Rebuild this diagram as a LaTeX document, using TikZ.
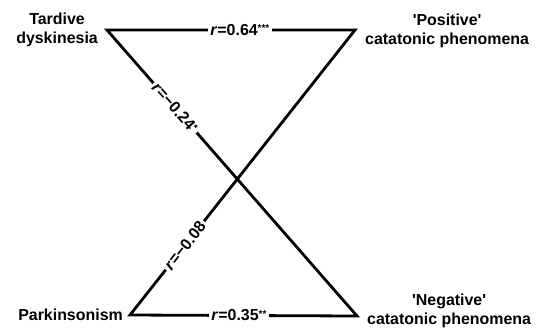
\documentclass[tikz,border=0pt]{standalone}
\usepackage{fontspec}
\setmainfont{Liberation Sans}
\usetikzlibrary{positioning}
\newcommand{\sig}[1]{\raisebox{3.5bp}{\fontsize{10}{10}\selectfont #1}}
\tikzset{
  corrLine/.style={line width=2.8bp, line join=miter},
  groupLbl/.style={inner sep=0pt, align=center},
  rLbl/.style={fill=white, inner sep=2.5bp},
}
\begin{document}
\begin{tikzpicture}[x=1bp, y=-1bp, font=\fontsize{16}{19.5}\selectfont\bfseries]
    \useasboundingbox (0,0) rectangle (550,329);
    % corners of the crossed figure
    \coordinate (tdV) at (107,30);
    \coordinate (posV) at (355,30);
    \coordinate (parkV) at (130,315);
    \coordinate (negV) at (357,316);
    \node[groupLbl, left=9bp of tdV] (td) {Tardive\\dyskinesia};
    \node[groupLbl, right=10bp of posV, yshift=-1bp] (pos) {\textquotesingle Positive\textquotesingle\\catatonic phenomena};
    \node[groupLbl, left=7bp of parkV] (park) {Parkinsonism};
    \node[groupLbl, right=10bp of negV, yshift=5bp] (neg) {\textquotesingle Negative\textquotesingle\\catatonic phenomena};
    \draw[corrLine] (tdV)
      -- node[rLbl, pos=0.536] {\textit{r}=0.64\sig{***}} (posV)
      -- node[rLbl, sloped, pos=0.756] {\textit{r}=\textminus0.08} (parkV)
      -- node[rLbl, pos=0.48] {\textit{r}=0.35\sig{**}} (negV)
      -- node[rLbl, sloped, pos=0.728] {\textit{r}=\textminus0.24\sig{*}} (tdV)
      -- cycle;
\end{tikzpicture}
\end{document}
